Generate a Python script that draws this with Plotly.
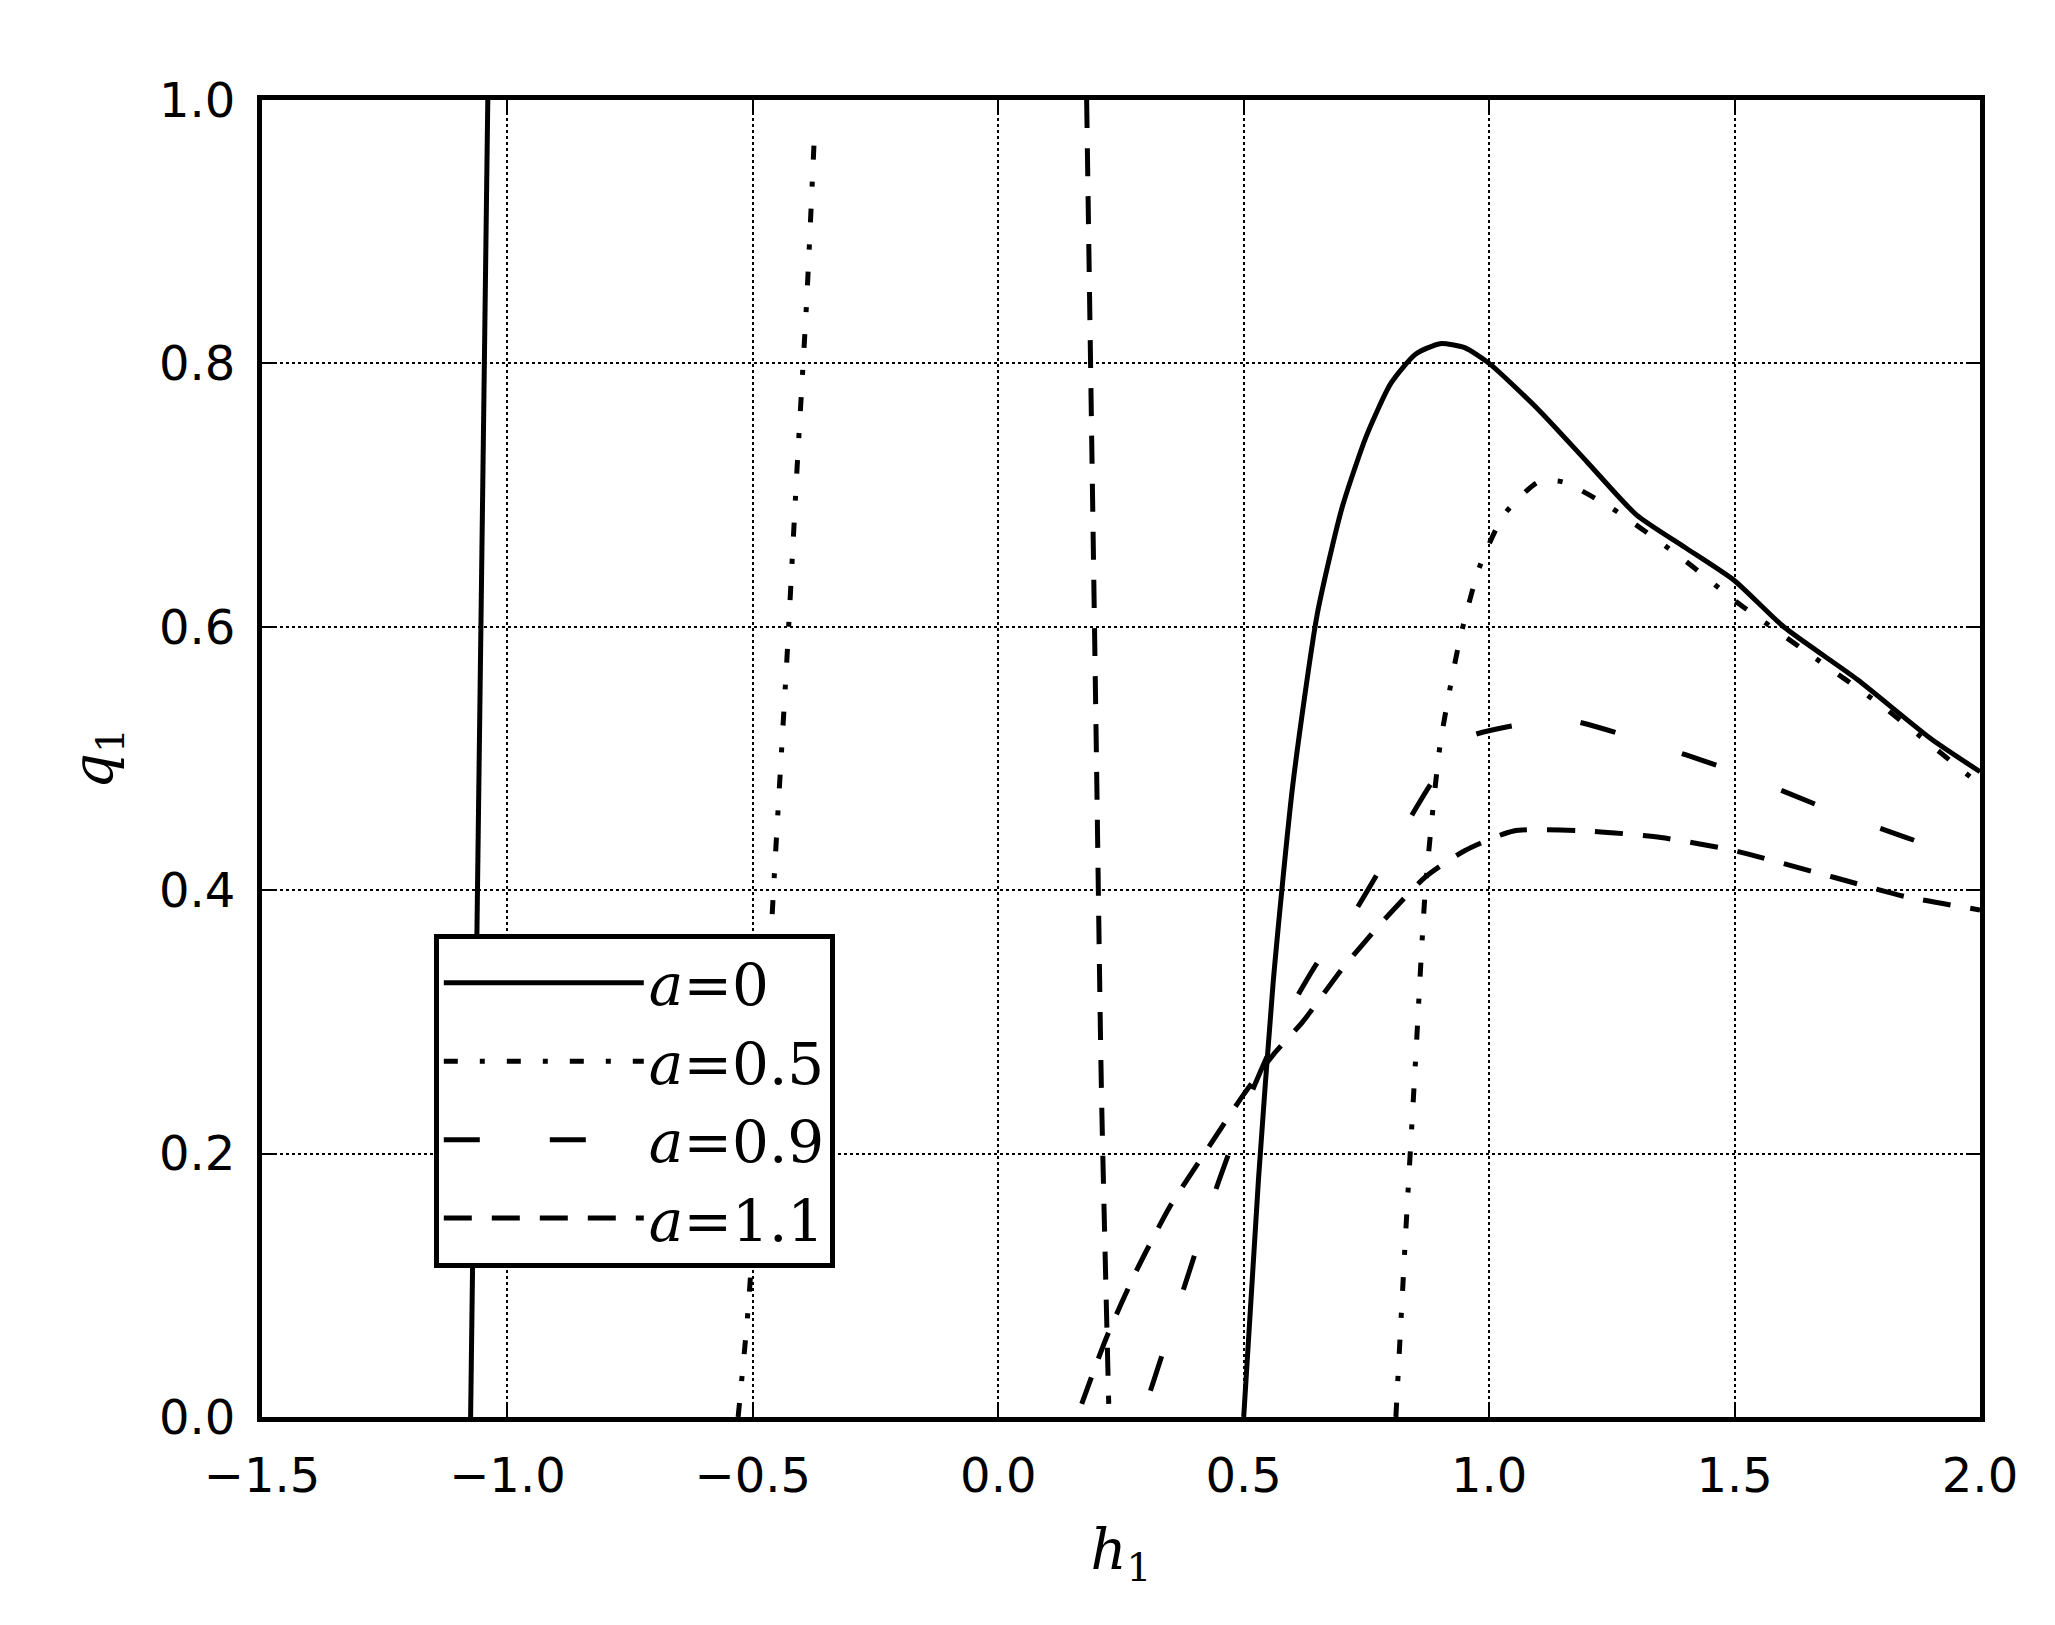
import plotly.graph_objects as go

# a = 0 (solid)
a0_left_h = [-1.075, -1.04]
a0_left_q = [0.0, 1.0]
a0_h = [0.50, 0.53, 0.56, 0.60, 0.65, 0.70, 0.75, 0.80, 0.85, 0.90, 0.95, 1.00, 1.10, 1.20, 1.30, 1.40, 1.50, 1.60, 1.75, 1.90, 2.00]
a0_q = [0.0, 0.18, 0.33, 0.48, 0.61, 0.69, 0.745, 0.785, 0.807, 0.815, 0.812, 0.80, 0.765, 0.725, 0.685, 0.66, 0.635, 0.60, 0.56, 0.515, 0.49]

# a = 0.5 (dash-dot)
a05_left_h = [-0.53, -0.51, -0.48, -0.455, -0.43, -0.41, -0.39, -0.375]
a05_left_q = [0.0, 0.08, 0.25, 0.42, 0.58, 0.72, 0.85, 0.97]
a05_h = [0.81, 0.83, 0.85, 0.87, 0.90, 0.94, 0.98, 1.03, 1.10, 1.15, 1.25, 1.40, 1.50, 1.65, 1.80, 2.00]
a05_q = [0.0, 0.14, 0.27, 0.40, 0.51, 0.59, 0.645, 0.685, 0.71, 0.71, 0.69, 0.65, 0.62, 0.58, 0.54, 0.48]

# a = 0.9 (long dash)
a09_h = [0.31, 0.38, 0.45, 0.52, 0.58, 0.65, 0.72, 0.80, 0.88, 0.95, 1.05, 1.15, 1.30, 1.50, 1.70, 1.85, 2.00]
a09_q = [0.02, 0.10, 0.18, 0.25, 0.30, 0.345, 0.38, 0.43, 0.48, 0.515, 0.525, 0.53, 0.515, 0.49, 0.46, 0.44, 0.42]

# a = 1.1 (dashed)
a11_top_h = [0.18, 0.19, 0.20, 0.21, 0.225]
a11_top_q = [1.0, 0.75, 0.50, 0.25, 0.01]
a11_h = [0.17, 0.22, 0.28, 0.35, 0.42, 0.50, 0.56, 0.62, 0.70, 0.78, 0.87, 0.95, 1.05, 1.20, 1.35, 1.50, 1.70, 1.85, 2.00]
a11_q = [0.01, 0.06, 0.11, 0.16, 0.20, 0.245, 0.275, 0.30, 0.34, 0.375, 0.41, 0.43, 0.445, 0.445, 0.44, 0.43, 0.41, 0.395, 0.385]

LW = 5
fig = go.Figure()

def add(h, q, dash, name, show):
    fig.add_trace(go.Scatter(x=h, y=q, mode="lines", name=name, showlegend=show,
                             line=dict(color="black", width=LW, dash=dash,
                                       shape="spline", smoothing=0.6)))

DASHDOT = "14px,22px,5px,22px"
LONG = "36px,70px"
DASH = "28px,20px"
add(a0_left_h, a0_left_q, "solid", "<i>a</i>=0", True)
add(a0_h, a0_q, "solid", "", False)
add(a05_left_h, a05_left_q, DASHDOT, "<i>a</i>=0.5", True)
add(a05_h, a05_q, DASHDOT, "", False)
add(a09_h, a09_q, LONG, "<i>a</i>=0.9", True)
add(a11_top_h, a11_top_q, DASH, "<i>a</i>=1.1", True)
add(a11_h, a11_q, DASH, "", False)

axis = dict(showline=True, linecolor="black", linewidth=5, mirror="ticks",
            ticks="inside", ticklen=14, tickwidth=2, tickcolor="black",
            showgrid=True, gridcolor="black", griddash="dot", gridwidth=2,
            zeroline=False, ticklabelstandoff=12,
            tickfont=dict(family="DejaVu Sans", size=48, color="black"))

fig.update_layout(
    width=2055, height=1625, paper_bgcolor="white", plot_bgcolor="white",
    margin=dict(l=254, r=83, t=92, b=216),
    xaxis=dict(axis, range=[-1.5, 2.0], dtick=0.5, tickformat=".1f",
               title=dict(text="<i>h</i><sub>1</sub>", standoff=30,
                          font=dict(family="DejaVu Serif", size=56, color="black"))),
    yaxis=dict(axis, range=[0, 1.0], dtick=0.2, tickformat=".1f",
               title=dict(text="<i>q</i><sub>1</sub>", standoff=30,
                          font=dict(family="DejaVu Serif", size=56, color="black"))),
    legend=dict(x=0.10, y=0.367, xanchor="left", yanchor="top",
                bordercolor="black", borderwidth=5, bgcolor="white",
                font=dict(family="DejaVu Serif", size=58, color="black"),
                itemwidth=200, tracegroupgap=10),
)
fig.write_html("out.html")
